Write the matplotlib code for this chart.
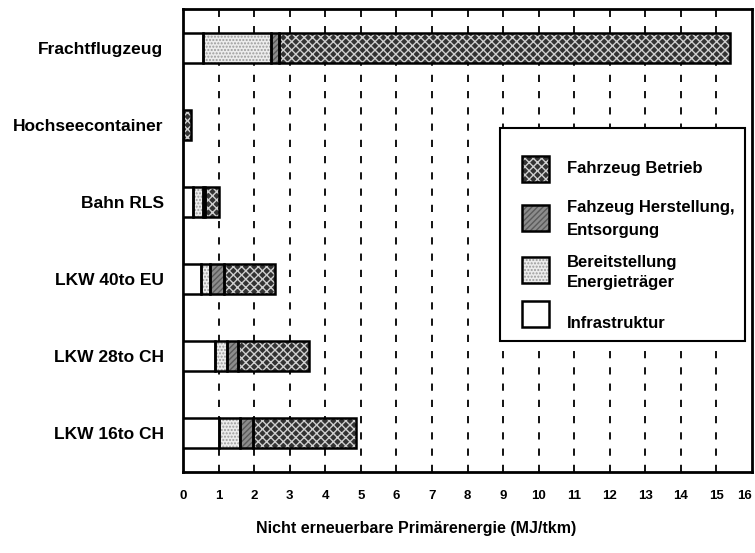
import numpy as np
import matplotlib
matplotlib.use('Agg')
from matplotlib import pyplot as plt
from matplotlib.patches import Rectangle

# data (MJ/tkm), bottom to top
categories = ['LKW 16to CH', 'LKW 28to CH', 'LKW 40to EU', 'Bahn RLS',
              'Hochseecontainer', 'Frachtflugzeug']
infrastruktur = [1.02, 0.90, 0.51, 0.29, 0.00, 0.57]
bereitstellung = [0.58, 0.33, 0.25, 0.28, 0.00, 1.90]
herstellung = [0.37, 0.31, 0.40, 0.05, 0.00, 0.23]
betrieb = [2.89, 2.01, 1.43, 0.40, 0.22, 12.67]
xticks = list(range(0, 17))

series = [
    ('Infrastruktur', infrastruktur, 'white', None, 'white'),
    ('Bereitstellung\nEnergieträger', bereitstellung, '#ececec', '.....', '#9a9a9a'),
    ('Fahzeug Herstellung,\nEntsorgung', herstellung, '#8c8c8c', '//////', '#5a5a5a'),
    ('Fahrzeug Betrieb', betrieb, '#333333', 'xxxx', '#cfcfcf'),
]

plt.rcParams['font.family'] = ['Liberation Sans', 'DejaVu Sans']
plt.rcParams['hatch.linewidth'] = 1.0

fig = plt.figure(figsize=(7.55, 5.53), dpi=100)
ax = fig.add_axes([183/755, 1-472/553, (752-183)/755, (472-9)/553])

y = np.arange(len(categories))
h = 0.39
left = np.zeros(len(categories))
for name, vals, fc, hatch, hc in series:
    vals = np.array(vals)
    ax.barh(y, vals, height=h, left=left, color=fc, edgecolor=hc,
            hatch=hatch, linewidth=0, zorder=3)
    ax.barh(y, vals, height=h, left=left, fill=False, edgecolor='black',
            linewidth=1.8, zorder=4)
    left += vals

for x in xticks[1:-1]:
    ax.axvline(x, color='black', linestyle=(0, (4, 5)), linewidth=1.3, zorder=1)

ax.set_xlim(0, 16)
ax.set_ylim(-0.5, 5.5)
ax.set_xticks(xticks)
ax.set_xticklabels([str(t) for t in xticks], fontsize=9.5, fontweight='bold')
ax.get_xticklabels()[-1].set_ha('right')
ax.tick_params(axis='x', length=0, pad=13)
ax.set_yticks(y)
ax.set_yticklabels(categories, fontsize=12.5, fontweight='bold')
ax.tick_params(axis='y', length=0, pad=14)
for s in ax.spines.values():
    s.set_linewidth(2)

fig.text(416/755, 1-528/553, 'Nicht erneuerbare Primärenergie (MJ/tkm)',
         ha='center', va='center', fontsize=11.5, fontweight='bold')

# legend box drawn by hand
lg = Rectangle((500/755, 1-341/553), 245/755, 213/553, transform=fig.transFigure,
               facecolor='white', edgecolor='black', linewidth=1.5, zorder=5)
fig.add_artist(lg)
entries = [
    (series[3], 169, [169]),
    (series[2], 218, [208, 230]),
    (series[1], 270, [262, 282]),
    (series[0], 314, [323]),
]
for (name, vals, fc, hatch, hc), py, ty in entries:
    box = Rectangle((522/755, 1-(py+13)/553), 27/755, 26/553,
                    transform=fig.transFigure, facecolor=fc, edgecolor=hc,
                    hatch=hatch, linewidth=0, zorder=6)
    fig.add_artist(box)
    edge = Rectangle((522/755, 1-(py+13)/553), 27/755, 26/553,
                     transform=fig.transFigure, fill=False, edgecolor='black',
                     linewidth=1.8, zorder=7)
    fig.add_artist(edge)
    for line, yy in zip(name.split('\n'), ty):
        fig.text(567/755, 1-yy/553, line, ha='left', va='center',
                 fontsize=12, fontweight='bold', zorder=8)

fig.savefig('out.png', dpi=100)
